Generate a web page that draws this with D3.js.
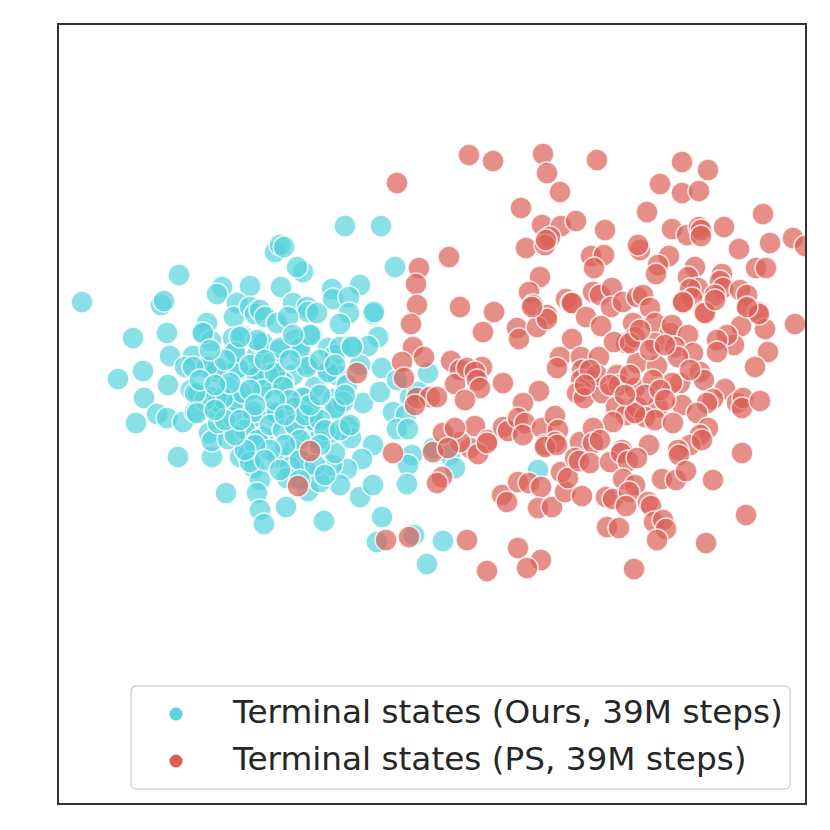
<!DOCTYPE html>
<html>
<head>
<meta charset="utf-8">
<script src="https://cdn.jsdelivr.net/npm/d3@7"></script>
<style>
  html, body { margin: 0; padding: 0; background: #fff; }
</style>
</head>
<body>
<div id="chart"></div>
<script>
// values, in arbitrary embedding units
const oursStates = [
  [82,302],[179,275],[161,305],[164,301],[133,338],[167,333],[170,356],[143,371],[118,379],[168,385],[144,398],
  [222,287],[217,294],[250,286],[237,303],[234,317],[250,307],[255,314],[207,323],[202,333],[211,341],[233,338],[242,336],
  [193,356],[185,367],[207,365],[217,372],[234,353],[238,370],[257,355],[260,343],[191,390],[198,393],[228,387],[218,398],
  [237,400],[258,373],[210,397],[136,423],[157,414],[167,418],[183,422],[195,412],[178,457],[212,457],[226,493],
  [209,433],[212,441],[228,439],[218,423],[233,418],[213,407],[218,402],[237,403],[250,432],[253,417],[240,457],[248,455],
  [254,468],[260,480],[257,493],[260,510],[264,524],[345,226],[381,226],[395,267],[275,252],[280,245],[284,247],[303,272],[297,267],
  [281,287],[332,289],[333,299],[360,285],[349,297],[293,303],[307,307],[308,312],[317,313],[260,310],[265,317],[277,323],[288,317],
  [349,313],[340,324],[373,314],[374,312],[312,335],[295,340],[328,348],[335,355],[340,347],[378,337],[368,346],[352,346],
  [263,343],[280,350],[300,353],[308,364],[272,363],[360,365],[382,368],[428,373],[327,372],[337,375],[293,375],[260,375],[273,373],
  [315,387],[303,397],[347,385],[333,399],[363,403],[380,392],[397,380],[410,397],[418,392],[283,382],[267,388],
  [393,412],[406,415],[397,429],[408,429],[373,445],[362,459],[347,469],[340,485],[360,497],[373,485],[412,455],[408,465],[407,484],
  [382,517],[286,507],[324,521],[377,542],[414,535],[443,541],[427,564],[348,427],[351,438],[337,410],[343,402],
  [310,423],[297,433],[273,415],[263,437],[278,457],[293,450],[305,470],[290,467],[287,478],[308,491],[320,482],[332,465],[335,453],
  [330,433],[318,440],[313,420],[433,448],[450,455],[455,468],[538,470],
  [203,333],[217,368],[238,368],[268,375],[257,377],[235,352],[257,340],[207,367],[193,367],[240,337],[223,398],[205,400],[195,393],
  [197,413],[253,412],[273,412],[243,393],[263,390],[230,383],[300,348],[307,367],[280,348],[328,372],
  [275,373],[283,387],[303,398],[335,408],[277,413],[295,408],[313,412],[352,347],[310,335],[293,335],
  [245,430],[258,440],[270,425],[283,430],[295,425],[305,415],[320,420],[325,430],[300,440],[285,445],[270,450],[255,445],[320,445],
  [340,430],[350,425],[310,405],[290,400],[250,462],[265,460],[280,470],[300,460],[315,465],[325,475],[300,480],[245,450],[235,435],
  [225,420],[215,410],[200,380],[215,385],[250,365],[265,360],[290,360],[320,360],[335,365],[225,360],[210,350],[250,390],[275,400],
  [320,395],[345,395],[255,405],[240,420],[285,415]
];

const psStates = [
  [397,183],[449,257],[419,268],[416,284],[417,305],[460,307],[411,324],[413,347],[402,362],[424,357],[357,373],[404,378],[451,361],[460,370],[455,384],
  [417,398],[430,397],[437,397],[415,405],[469,155],[493,161],[543,154],[547,173],[560,192],[597,160],[521,208],[542,225],[561,226],[576,221],[605,230],
  [550,237],[526,248],[545,245],[546,240],[540,277],[529,292],[533,305],[591,256],[604,255],[594,268],[593,292],[600,295],[612,288],[566,299],[571,303],
  [611,307],[623,302],[637,297],[640,250],[638,245],[494,312],[547,315],[682,162],[708,170],[660,184],[682,193],[699,191],[647,212],[763,214],
  [672,229],[687,235],[699,227],[701,230],[701,236],[724,227],[739,249],[770,243],[793,238],[805,246],[756,268],[766,268],[669,256],[658,265],
  [656,274],[695,267],[688,277],[698,288],[690,289],[692,298],[683,303],[722,274],[720,281],[723,288],[715,295],[740,290],[747,295],[747,308],[758,312],
  [704,312],[643,295],[650,308],[483,332],[517,328],[519,339],[537,327],[547,319],[532,307],[572,303],[586,317],[601,326],[572,339],[560,357],[557,368],
  [581,357],[599,357],[582,370],[581,380],[589,381],[577,393],[584,398],[602,393],[597,375],[617,375],[619,385],[616,407],[626,415],[613,422],[626,343],
  [614,342],[633,323],[635,337],[637,363],[635,388],[637,407],[482,367],[467,368],[475,372],[477,380],[480,388],[503,383],[539,391],[465,400],[523,403],
  [475,426],[488,440],[503,427],[508,431],[518,418],[525,423],[523,435],[542,428],[555,416],[558,430],[545,445],[555,442],[580,442],[593,428],[593,443],
  [600,440],[622,450],[470,448],[460,442],[795,324],[765,329],[741,326],[759,314],[747,307],[768,352],[755,367],[734,345],[727,335],[717,340],[717,352],
  [705,313],[683,302],[715,300],[655,323],[670,333],[672,325],[688,335],[630,343],[655,343],[675,347],[693,353],[678,357],[657,366],[700,372],[704,380],
  [680,383],[672,383],[653,380],[725,389],[713,399],[707,403],[737,403],[743,398],[742,408],[760,401],[682,405],[697,413],[708,428],[700,435],[658,407],
  [645,417],[655,420],[673,423],[635,413],[649,445],[690,445],[678,450],[742,453],[478,454],[487,443],[545,447],[557,445],[502,495],[507,502],[518,482],
  [529,483],[541,487],[538,508],[552,507],[565,492],[582,496],[561,472],[568,478],[575,458],[579,461],[590,463],[610,462],[621,453],[628,461],[637,458],
  [679,455],[702,440],[713,480],[662,479],[676,480],[686,471],[606,497],[613,499],[623,479],[635,485],[629,492],[626,506],[648,502],[651,506],[654,522],
  [663,520],[666,529],[657,540],[607,527],[619,528],[746,515],[706,543],[634,569],[467,540],[518,548],[541,560],[527,568],[487,571],[393,453],[433,452],
  [443,433],[455,428],[448,448],[442,477],[437,483],[310,451],[298,486],[386,540],[409,537],
  [640,330],[650,350],[665,345],[630,375],[645,395],[660,390],[690,370],[610,385],[590,370],[585,385],[625,395],[665,400]
];

const seriesLabels = ["Terminal states (Ours, 39M steps)", "Terminal states (PS, 39M steps)"];
const xDomain = [58, 806];
const yDomain = [24, 804];

const colors = { ours: "#57d3db", ps: "#db5f57" };
const margin = { top: 24, right: 24, bottom: 26, left: 58 };
const width = 830 - margin.left - margin.right;
const height = 830 - margin.top - margin.bottom;
const dotRadius = 11;

const svg = d3.select("#chart")
  .append("svg")
  .attr("width", 830)
  .attr("height", 830)
  .style("display", "block");

svg.append("defs").append("clipPath")
  .attr("id", "plot-clip")
  .append("rect")
  .attr("width", width)
  .attr("height", height);

const g = svg.append("g")
  .attr("transform", `translate(${margin.left},${margin.top})`);

const x = d3.scaleLinear().domain(xDomain).range([0, width]);
const y = d3.scaleLinear().domain(yDomain).range([0, height]);

// scatter, ours first so the red ones sit on top
const dots = g.append("g").attr("clip-path", "url(#plot-clip)");

function addSeries(data, color) {
  dots.append("g")
    .selectAll("circle")
    .data(data)
    .enter()
    .append("circle")
    .attr("cx", d => x(d[0]))
    .attr("cy", d => y(d[1]))
    .attr("r", dotRadius)
    .attr("fill", color)
    .attr("fill-opacity", 0.7)
    .attr("stroke", "#fff")
    .attr("stroke-opacity", 0.8)
    .attr("stroke-width", 1.5);
}
addSeries(oursStates, colors.ours);
addSeries(psStates, colors.ps);

// frame
g.append("rect")
  .attr("width", width)
  .attr("height", height)
  .attr("fill", "none")
  .attr("stroke", "#333")
  .attr("stroke-width", 2);

// legend
const legend = g.append("g")
  .attr("transform", `translate(${131 - margin.left},${686 - margin.top})`);

legend.append("rect")
  .attr("width", 659)
  .attr("height", 103)
  .attr("rx", 5)
  .attr("fill", "#fff")
  .attr("fill-opacity", 0.8)
  .attr("stroke", "#d5d5d5")
  .attr("stroke-width", 1.5);

const legendColors = [colors.ours, colors.ps];
seriesLabels.forEach((label, i) => {
  legend.append("circle")
    .attr("cx", 45)
    .attr("cy", 28 + i * 47)
    .attr("r", 6.5)
    .attr("fill", legendColors[i]);
  legend.append("text")
    .attr("x", 102)
    .attr("y", 37 + i * 47)
    .attr("font-family", "DejaVu Sans")
    .attr("font-size", 32.7)
    .attr("fill", "#262626")
    .text(label);
});
</script>
</body>
</html>
